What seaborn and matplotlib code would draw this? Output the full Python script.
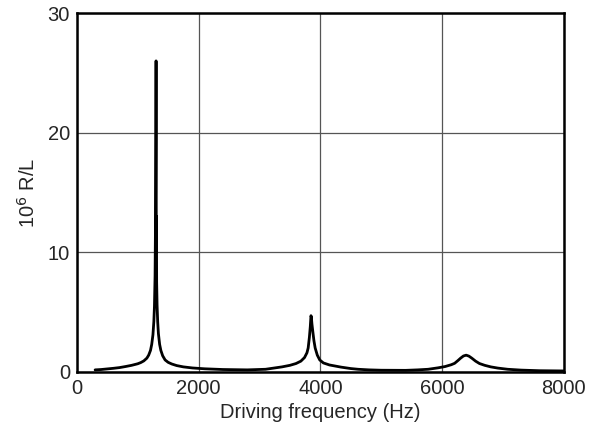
import matplotlib
matplotlib.use("Agg")
import matplotlib.pyplot as plt
import seaborn as sns
import pandas as pd

# Driving frequency (Hz) and response 10^6 R/L
freq = [300, 400, 500, 600, 700, 800, 900, 1000, 1050, 1100, 1150, 1180, 1210,
        1230, 1250, 1265, 1275, 1285, 1293, 1298, 1300, 1303, 1305, 1308, 1311,
        1318, 1328, 1340, 1360, 1380, 1410, 1450, 1500, 1560, 1640, 1750, 1900,
        2100, 2400, 2800,
        3100, 3370, 3500, 3600, 3680, 3740, 3780, 3800, 3820, 3835, 3846, 3852,
        3862, 3878, 3895, 3915, 3950, 3990, 4050, 4150, 4340, 4500, 4620, 4800,
        5000,
        5400, 5600, 5770, 5933, 6050, 6150, 6206, 6260, 6304, 6350, 6395, 6440,
        6488, 6550, 6614, 6700, 6800, 6915, 7078, 7300, 7600, 8000]
resp = [0.17, 0.2, 0.25, 0.3, 0.36, 0.45, 0.55, 0.68, 0.78, 0.92, 1.15, 1.4, 1.8,
        2.3, 3.1, 4.2, 5.5, 8.0, 13.0, 20.0, 26.0, 26.0, 10.0, 13.0, 7.5,
        5.6, 4.2, 3.2, 2.3, 1.8, 1.35, 1.0, 0.8, 0.66, 0.53, 0.42, 0.33,
        0.26, 0.2, 0.17,
        0.22, 0.42, 0.55, 0.7, 0.9, 1.2, 1.6, 2.0, 2.9, 3.8, 4.7, 4.6,
        4.0, 3.3, 2.6, 2.0, 1.4, 1.0, 0.75, 0.58, 0.4, 0.28, 0.22, 0.17,
        0.14,
        0.13, 0.17, 0.22, 0.34, 0.45, 0.6, 0.72, 0.95, 1.15, 1.33, 1.4, 1.32,
        1.15, 0.9, 0.7, 0.55, 0.42, 0.32, 0.22, 0.15, 0.1, 0.08]

x_ticks = [0, 2000, 4000, 6000, 8000]
y_ticks = [0, 10, 20, 30]

df = pd.DataFrame({"f": freq, "r": resp})

sns.set_style("white")
plt.rcParams['font.family'] = ['Liberation Sans', 'DejaVu Sans']

fig = plt.figure(figsize=(6.05, 4.36), dpi=100)
ax = fig.add_axes([0.127, 0.147, 0.805, 0.823])

sns.lineplot(data=df, x="f", y="r", ax=ax, color="black", linewidth=2.0,
             sort=False, estimator=None)

ax.set_xlim(0, 8000)
ax.set_ylim(0, 30)
ax.set_xticks(x_ticks)
ax.set_yticks(y_ticks)
ax.grid(True, color="#555555", linewidth=0.9)
ax.set_axisbelow(True)
ax.tick_params(length=0, labelsize=14.5, pad=5)
for s in ax.spines.values():
    s.set_color("black")
    s.set_linewidth(1.8)
ax.set_xlabel("Driving frequency (Hz)", fontsize=14.5, labelpad=4)
ax.set_ylabel("10$^6$ R/L", fontsize=14.5, labelpad=6)

fig.savefig("out.png", dpi=100)
